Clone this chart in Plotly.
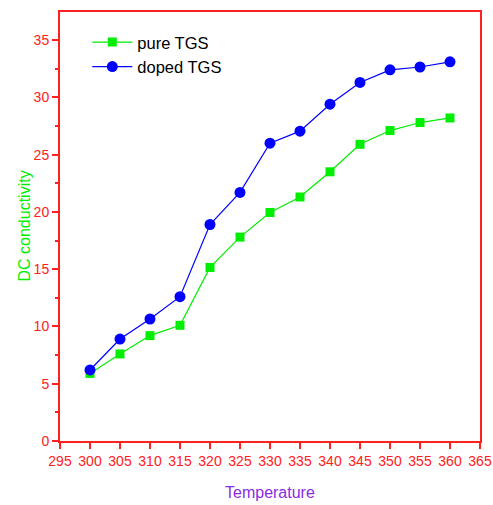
import plotly.graph_objects as go

temperature = [300, 305, 310, 315, 320, 325, 330, 335, 340, 345, 350, 355, 360]
pure_tgs = [5.9, 7.6, 9.2, 10.1, 15.15, 17.8, 19.95, 21.3, 23.5, 25.9, 27.1, 27.8, 28.2]
doped_tgs = [6.2, 8.9, 10.65, 12.6, 18.9, 21.7, 26.0, 27.05, 29.4, 31.3, 32.4, 32.65, 33.1]
x_ticks = list(range(295, 366, 5))
y_ticks = list(range(0, 36, 5))

W, H = 493, 505
L, R, T, B = 60, 13, 12, 64

fig = go.Figure()
fig.add_trace(go.Scatter(x=temperature, y=pure_tgs, name="pure TGS", mode="lines+markers",
                         line=dict(color="#00ee00", width=1.2),
                         marker=dict(symbol="square", size=9, color="#00ee00")))
fig.add_trace(go.Scatter(x=temperature, y=doped_tgs, name="doped TGS", mode="lines+markers",
                         line=dict(color="#0000ff", width=1.2),
                         marker=dict(symbol="circle", size=11, color="#0000ff")))

fig.update_layout(
    width=W, height=H,
    margin=dict(l=L, r=R, t=T, b=B),
    paper_bgcolor="white", plot_bgcolor="white",
    font=dict(family="Liberation Sans, Arial", color="#ff2020"),
    legend=dict(x=0.065, y=0.97, xanchor="left", yanchor="top",
                font=dict(family="Liberation Sans", size=16.5, color="black"),
                bgcolor="rgba(0,0,0,0)", itemwidth=40, tracegroupgap=0),
    xaxis=dict(range=[295, 365], tickvals=x_ticks, ticks="outside", ticklen=6, tickwidth=1.5,
               tickcolor="#ff2020", showline=True, linecolor="#ff2020", linewidth=2, mirror=True,
               showgrid=False, zeroline=False, automargin=False,
               tickfont=dict(size=14, color="#ff2020")),
    yaxis=dict(range=[0, 37.45], tickvals=y_ticks, ticks="outside", ticklen=6, tickwidth=1.5,
               tickcolor="#ff2020", showline=True, linecolor="#ff2020", linewidth=2, mirror=True,
               showgrid=False, zeroline=False, automargin=False,
               minor=dict(dtick=2.5, tick0=0, ticks="outside", ticklen=3, tickcolor="#ff2020", showgrid=False),
               tickfont=dict(size=14, color="#ff2020")),
    annotations=[
        dict(text="Temperature", xref="paper", yref="paper",
             x=0.5, y=-(493 - (H - B)) / (H - T - B), xanchor="center", yanchor="middle",
             showarrow=False, font=dict(size=16, color="#8a2be2", family="Liberation Sans")),
        dict(text="DC conductivity", xref="paper", yref="paper", textangle=-90,
             x=-(L - 24) / (W - L - R), y=0.5, xanchor="center", yanchor="middle",
             showarrow=False, font=dict(size=16, color="#00ee00", family="Liberation Sans")),
    ],
)
fig.write_html("out.html")
